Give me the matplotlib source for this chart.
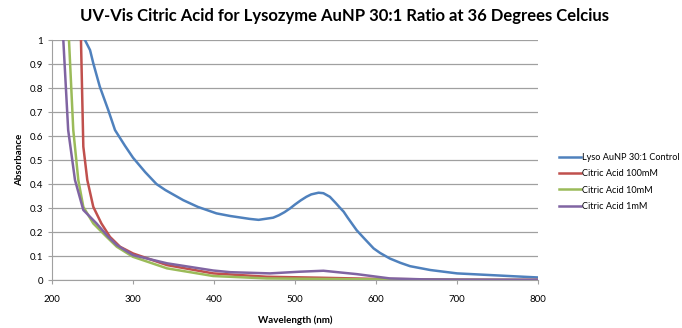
import matplotlib.pyplot as plt

plt.rcParams['font.family'] = ['Lato', 'DejaVu Sans']

wl_ctrl = [236, 240.7, 247, 251, 259, 269.5, 277.8, 290, 300, 315, 329, 340, 362, 380, 403, 420, 444, 455, 473, 480, 487, 494, 500, 507, 514, 520, 529, 535, 543, 550, 555, 560, 565, 576, 585, 597, 605, 617, 630, 642, 667, 700, 741, 770, 800]
abs_ctrl = [1.08, 1.0, 0.958, 0.903, 0.806, 0.708, 0.625, 0.56, 0.51, 0.45, 0.40, 0.375, 0.333, 0.305, 0.278, 0.267, 0.255, 0.251, 0.26, 0.27, 0.283, 0.299, 0.315, 0.332, 0.347, 0.357, 0.364, 0.362, 0.347, 0.322, 0.303, 0.285, 0.26, 0.208, 0.175, 0.132, 0.113, 0.09, 0.072, 0.058, 0.042, 0.028, 0.021, 0.016, 0.011]

wl_100 = [233, 235.8, 238.7, 243.6, 251, 261, 271.6, 284, 300, 342, 399, 465, 530, 600, 700, 800]
abs_100 = [1.1, 1.0, 0.556, 0.417, 0.305, 0.236, 0.18, 0.139, 0.111, 0.0625, 0.028, 0.014, 0.01, 0.005, 0.002, 0.001]

wl_10 = [218, 221, 226.3, 232.5, 238.7, 251, 267.5, 280, 300, 342, 399, 465, 530, 600, 700, 800]
abs_10 = [1.1, 1.0, 0.625, 0.417, 0.305, 0.236, 0.18, 0.139, 0.097, 0.049, 0.017, 0.007, 0.005, 0.003, 0.001, 0.0]

wl_1 = [211, 214, 220, 228.4, 238.7, 255, 269.5, 280, 300, 342, 399, 420, 469, 506, 535, 576, 617, 660, 700, 800]
abs_1 = [1.1, 1.0, 0.625, 0.417, 0.292, 0.236, 0.18, 0.146, 0.104, 0.07, 0.04, 0.033, 0.028, 0.035, 0.039, 0.025, 0.007, 0.003, 0.002, 0.001]

labels = ["Lyso AuNP 30:1 Control", "Citric Acid 100mM", "Citric Acid 10mM", "Citric Acid 1mM"]
colors = ["#4F81BD", "#C0504D", "#9BBB59", "#8064A2"]

fig = plt.figure(figsize=(6.82, 3.28), dpi=100)
ax = fig.add_axes([0.0762, 0.146, 0.7128, 0.732])

series = [(wl_ctrl, abs_ctrl), (wl_100, abs_100), (wl_10, abs_10), (wl_1, abs_1)]
for (x, y), lab, c in zip(series, labels, colors):
    ax.plot(x, y, color=c, lw=1.8, label=lab)

ax.set_xlim(200, 800)
ax.set_ylim(0, 1)
ax.set_xticks(range(200, 801, 100))
ax.set_yticks([i / 10 for i in range(11)])
ax.set_yticklabels(["0", "0.1", "0.2", "0.3", "0.4", "0.5", "0.6", "0.7", "0.8", "0.9", "1"])
ax.yaxis.grid(True, color="#a0a0a0", lw=0.9)
ax.set_axisbelow(True)
for s in ["top", "right"]:
    ax.spines[s].set_visible(False)
for s in ["left", "bottom"]:
    ax.spines[s].set_color("#a0a0a0")
ax.tick_params(axis="both", labelsize=7, color="#a0a0a0", length=3)
ax.tick_params(axis="x", pad=8)

ax.set_xlabel("Wavelength (nm)", fontsize=7, fontweight="bold", labelpad=8)
ax.set_ylabel("Absorbance", fontsize=7, fontweight="bold")
fig.suptitle("UV-Vis Citric Acid for Lysozyme AuNP 30:1 Ratio at 36 Degrees Celcius",
             fontsize=12, fontweight="bold", y=0.975, x=0.505)

fig.legend(loc="center left", bbox_to_anchor=(0.815, 0.445), frameon=False, fontsize=6.6,
           handlelength=2.4, handletextpad=0.05, labelspacing=0.8, borderaxespad=0)

fig.savefig("out.png", dpi=100)
